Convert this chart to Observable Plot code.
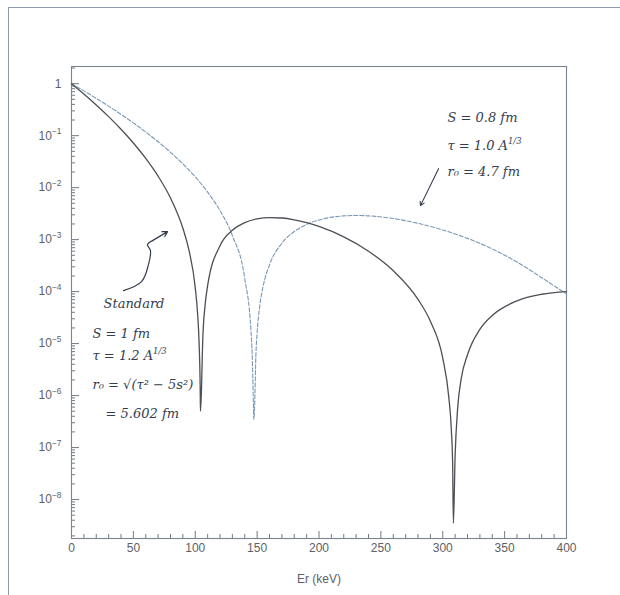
<!DOCTYPE html>
<html><head><meta charset="utf-8">
<script src="https://cdn.jsdelivr.net/npm/d3@7"></script>
<script src="https://cdn.jsdelivr.net/npm/@observablehq/plot@0.6"></script>
<style>
body{margin:0;background:#fff;}
#wrap{position:relative;width:620px;height:595px;overflow:hidden;background:#fff;}
#border{position:absolute;left:8px;top:7px;width:700px;height:700px;border-top:1px solid #8d9bb0;border-left:1px solid #8d9bb0;}
#chart{position:absolute;left:0;top:0;}
</style></head><body>
<div id="wrap"><div id="border"></div><div id="chart"></div></div>
<script>
// ---- data ----
const solidE = [0,10,20,30,40,50,60,70,80,90,95,100,102,103,104,104.2,105,106,108,110,120,130,140,150,160,170,180,190,200,220,240,260,280,290,300,305,307,308,308.6,310,312,315,320,330,340,360,380,400];
const solidF = [1,0.6324,0.3887,0.2321,0.1330,0.07238,0.03662,0.01663,0.006311,0.001657,6.147e-4,1.195e-4,3.46e-5,1.205e-5,1.31e-6,5e-7,1.25e-6,1.093e-5,5.61e-5,1.299e-4,7.627e-4,0.001509,0.002121,0.002505,0.002654,0.002605,0.002410,0.002123,0.001791,0.001128,5.983e-4,2.527e-4,7.094e-5,2.688e-5,5.247e-6,8.83e-7,2.09e-7,4.7e-8,3.5e-9,7.0e-8,5.58e-7,2.16e-6,6.089e-6,1.879e-5,3.472e-5,6.655e-5,8.891e-5,1.0e-4];
const dashE = [0,10,20,30,40,50,60,70,80,90,100,110,120,130,140,145,146,147,147.3,148,149,150,152,155,160,170,180,190,200,220,230,240,260,280,300,320,340,360,380,400];
const dashF = [1,0.7269,0.5219,0.3696,0.2575,0.1760,0.1175,0.07633,0.04783,0.02861,0.01606,0.008210,0.003614,0.001195,1.788e-4,1.785e-5,6.30e-6,6.87e-7,3.5e-7,6.7e-7,5.95e-6,1.619e-5,5.04e-5,1.308e-4,3.266e-4,8.531e-4,0.001431,0.001960,0.002386,0.002858,0.002912,0.002864,0.002546,0.002061,0.001537,0.001055,6.615e-4,3.698e-4,1.851e-4,9.0e-5];
const xTickValues = [0,50,100,150,200,250,300,350,400];
const xTickLabels = ["0","50","100","150","200","250","300","350","400"];
const yTickExponents = [0,-1,-2,-3,-4,-5,-6,-7,-8];
const yTickLabels = ["1","10^{−1}","10^{−2}","10^{−3}","10^{−4}","10^{−5}","10^{−6}","10^{−7}","10^{−8}"];
const xTitle = "Er (keV)";
// handwritten notes (data units)
const noteTexts = ["S = 0.8 fm","τ = 1.0 A^{1/3}","r₀ = 4.7 fm","Standard","S = 1 fm","τ = 1.2 A^{1/3}","r₀ = √(τ² − 5s²)","= 5.602 fm"];
const noteX = [303.8,303.8,303.8,25.9,17.0,17.0,17.0,27.5];
const noteY = [0.222,0.0643,0.0203,5.88e-5,1.56e-5,5.88e-6,1.63e-6,4.51e-7];
const stdArrowX = [42.0,56.6,62.2,63.8,61.4,65.5];
const stdArrowY = [1.045e-4,1.556e-4,3.30e-4,6.14e-4,8.02e-4,9.57e-4];
const stdArrowTip = {x1:65.5,y1:9.57e-4,x2:77.6,y2:1.426e-3};
const thinArrow = {x1:296.6,y1:0.0232,x2:282.0,y2:4.51e-3};

// ---- layout ----
const W=620,H=595,ML=71,MR=54,MT=66,MB=57;
const FW=W-ML-MR, FH=H-MT-MB;
const frameColor="#7a8490", tickColor="#6f7a86", labelColor="#5d6166", ink="#353d50";

const solid = solidE.map((e,i)=>({e,f:solidF[i]}));
const dash = dashE.map((e,i)=>({e,f:dashF[i]}));
const stdPath = stdArrowX.map((x,i)=>({x,y:stdArrowY[i]}));
const notes = noteTexts.map((t,i)=>({t,x:noteX[i],y:noteY[i]}));

const yMajor = yTickExponents.map(d=>Math.pow(10,d));
const yMinor = [];
for (let d=-9; d<=0; d++) for (let m=2; m<=9; m++) { const v=m*Math.pow(10,d); if (v>1.78e-9 && v<2.14) yMinor.push(v); }
const xMinor = d3.range(0,401,10).filter(v=>v%50!==0);

const chart = Plot.plot({
  width:W, height:H, marginLeft:ML, marginRight:MR, marginTop:MT, marginBottom:MB,
  x:{domain:[0,400], axis:null},
  y:{type:"log", domain:[1.78e-9,2.14], axis:null},
  style:{background:"transparent", fontFamily:"'Liberation Sans', Arial, sans-serif"},
  marks:[
    Plot.tickY(yMajor,{y:d=>d, insetRight:FW-8, stroke:tickColor}),
    Plot.tickY(yMinor,{y:d=>d, insetRight:FW-4, stroke:tickColor}),
    Plot.tickX(xTickValues,{x:d=>d, insetTop:FH-7, stroke:tickColor}),
    Plot.tickX(xMinor,{x:d=>d, insetTop:FH-4, stroke:tickColor}),
    Plot.frame({stroke:frameColor, strokeWidth:1.1}),
    Plot.line(dash,{x:"e", y:"f", stroke:"#7898b8", strokeWidth:1.1, strokeDasharray:"4,2", curve:"monotone-x"}),
    Plot.line(solid,{x:"e", y:"f", stroke:"#4c4f55", strokeWidth:1.3, curve:"monotone-x"}),
    Plot.text(yTickExponents,{y:d=>Math.pow(10,d), frameAnchor:"left", dx:-10, textAnchor:"end", text:(d,i)=>yTickLabels[i], fontSize:12, fill:labelColor}),
    Plot.text(xTickValues,{x:d=>d, frameAnchor:"bottom", dy:13, text:(d,i)=>xTickLabels[i], fontSize:12, fill:labelColor}),
    Plot.text([xTitle],{frameAnchor:"bottom", dy:44, text:d=>d, fontSize:12, fill:labelColor}),
    Plot.line(stdPath,{x:"x", y:"y", stroke:ink, strokeWidth:1.2, curve:"catmull-rom"}),
    Plot.arrow([stdArrowTip],{x1:"x1",y1:"y1",x2:"x2",y2:"y2", stroke:ink, strokeWidth:1.2, headLength:7}),
    Plot.arrow([thinArrow],{x1:"x1",y1:"y1",x2:"x2",y2:"y2", stroke:ink, strokeWidth:1.1, headLength:6}),
    Plot.text(notes,{x:"x", y:"y", text:"t", textAnchor:"start", fontSize:13, fontStyle:"italic", fontFamily:"'DejaVu Serif', serif", fill:ink})
  ]
});

// turn ^{...} into real superscripts
d3.select(chart).selectAll("text").each(function(){
  const el=d3.select(this);
  if (el.selectAll("tspan").size()>0) return;
  const s=this.textContent;
  if (!s.includes("^{")) return;
  const m=s.match(/^(.*)\^\{(.*)\}(.*)$/);
  if (!m) return;
  const fs=parseFloat(el.attr("font-size")) || parseFloat(getComputedStyle(this).fontSize) || 12;
  el.text(null);
  el.append("tspan").text(m[1]);
  el.append("tspan").attr("dy",-fs*0.45).attr("font-size",fs*0.7).text(m[2]);
  if (m[3]) el.append("tspan").attr("dy",fs*0.45).text(m[3]);
});
document.getElementById("chart").appendChild(chart);
</script>
</body></html>
